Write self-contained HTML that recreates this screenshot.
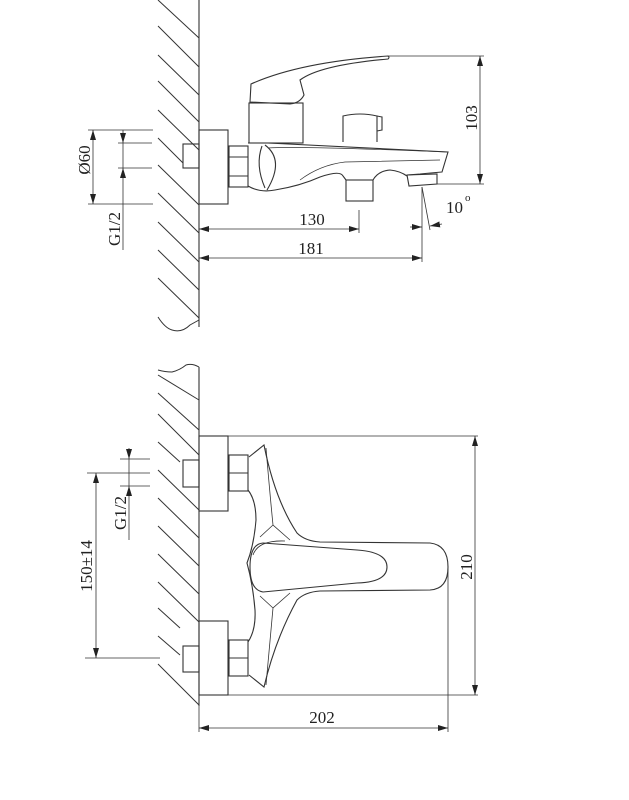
<!DOCTYPE html>
<html><head><meta charset="utf-8"><style>
html,body{margin:0;padding:0;background:#fff;}
svg{display:block;}
text{font-family:"Liberation Serif",serif;fill:#222;}
</style></head><body>
<svg width="629" height="800" viewBox="0 0 629 800" xmlns="http://www.w3.org/2000/svg">
<defs>
<marker id="a" viewBox="0 0 10 6" refX="10" refY="3" markerWidth="10" markerHeight="6" markerUnits="userSpaceOnUse" orient="auto-start-reverse"><path d="M0,0 L10,3 L0,6 z" fill="#222"/></marker>
</defs>
<g stroke="#333" stroke-width="1.1" fill="none">
<line x1="199" y1="0" x2="199" y2="327"/>
<g stroke-width="1">
<line x1="158" y1="0" x2="199" y2="38"/>
<line x1="158" y1="26" x2="199" y2="67"/>
<line x1="158" y1="55" x2="199" y2="95"/>
<line x1="158" y1="81" x2="199" y2="122"/>
<line x1="158" y1="110" x2="199" y2="150"/>
<line x1="158" y1="138" x2="183" y2="163"/>
<line x1="158" y1="165" x2="199" y2="205"/>
<line x1="158" y1="193" x2="199" y2="233"/>
<line x1="158" y1="222" x2="199" y2="262"/>
<line x1="158" y1="250" x2="199" y2="290"/>
<line x1="158" y1="278" x2="199" y2="318"/>
<path d="M158,317 Q165,328 172,330 Q182,333 190,325 L199,320"/>
</g>
<rect x="199" y="130" width="29" height="74"/>
<rect x="183" y="144" width="16" height="24"/>
<rect x="229" y="146" width="19" height="41"/>
<line x1="229" y1="157" x2="248" y2="157"/>
<line x1="229" y1="176" x2="248" y2="176"/>
<rect x="249" y="103" width="54" height="40"/>
<path d="M250,102 L251,84 Q300,62 388,56 Q390,57 388,59 Q320,65 300,80 L304,95 Q300,103 290,104 Z"/>
<path d="M343,142 L343,116 Q360,112 377,116 L377,142"/>
<path d="M377,116 L382,117 L382,130 L377,131"/>
<path d="M248,143 L268,143 L448,152 L442,172 Q430,173 420,174 L407,175"/>
<path d="M248,186 Q260,193 275,190 Q300,186 320,177 Q340,170 343,176 L346,180"/>
<path d="M373,180 Q378,171 390,170 Q400,171 407,176"/>
<path d="M268,148 Q298,146 448,152" stroke-width="0.7"/>
<path d="M265,145 Q285,160 267,190" />
<path d="M262,146 Q255,165 265,188"/>
<path d="M300,180 Q320,165 345,162 L440,160" stroke-width="0.7"/>
<rect x="346" y="180" width="27" height="21"/>
<path d="M407,175 L437,174 L437,184 L409,186 Z"/>
<line x1="388" y1="56" x2="484" y2="56" stroke-width="0.8"/>
<line x1="437" y1="184" x2="484" y2="184" stroke-width="0.8"/>
<line x1="480" y1="56" x2="480" y2="184" stroke-width="0.8" marker-start="url(#a)" marker-end="url(#a)"/>
<line x1="422" y1="187" x2="422" y2="262" stroke-width="0.8"/>
<line x1="422" y1="187" x2="430" y2="230" stroke-width="0.8"/>
<line x1="410" y1="227" x2="422" y2="227" stroke-width="0.8" marker-end="url(#a)"/>
<line x1="442" y1="224" x2="430" y2="226" stroke-width="0.8" marker-end="url(#a)"/>
<line x1="359" y1="210" x2="359" y2="233" stroke-width="0.8"/>
<line x1="199" y1="229" x2="359" y2="229" stroke-width="0.8" marker-start="url(#a)" marker-end="url(#a)"/>
<line x1="199" y1="258" x2="422" y2="258" stroke-width="0.8" marker-start="url(#a)" marker-end="url(#a)"/>
<line x1="88" y1="130" x2="153" y2="130" stroke-width="0.8"/>
<line x1="88" y1="204" x2="153" y2="204" stroke-width="0.8"/>
<line x1="118" y1="143" x2="152" y2="143" stroke-width="0.8"/>
<line x1="118" y1="168" x2="152" y2="168" stroke-width="0.8"/>
<line x1="93" y1="130" x2="93" y2="204" stroke-width="0.8" marker-start="url(#a)" marker-end="url(#a)"/>
<line x1="123" y1="130" x2="123" y2="143" stroke-width="0.8" marker-end="url(#a)"/>
<line x1="123" y1="180" x2="123" y2="168" stroke-width="0.8" marker-end="url(#a)"/>
<line x1="123" y1="143" x2="123" y2="168" stroke-width="0.8"/>
<line x1="123" y1="180" x2="123" y2="250" stroke-width="0.8"/>

<line x1="199" y1="367" x2="199" y2="706"/>
<g stroke-width="1">
<path d="M158,370 Q165,372 172,372 Q180,370 186,365 Q192,363 199,367"/>
<line x1="158" y1="375" x2="199" y2="400"/>
<line x1="158" y1="393" x2="199" y2="430"/>
<line x1="158" y1="414" x2="199" y2="455"/>
<line x1="158" y1="442" x2="180" y2="462"/>
<line x1="158" y1="470" x2="199" y2="510"/>
<line x1="158" y1="498" x2="199" y2="538"/>
<line x1="158" y1="526" x2="199" y2="566"/>
<line x1="158" y1="554" x2="199" y2="594"/>
<line x1="158" y1="582" x2="199" y2="622"/>
<line x1="158" y1="608" x2="180" y2="628"/>
<line x1="158" y1="636" x2="180" y2="655"/>
<line x1="158" y1="664" x2="199" y2="705"/>
</g>
<rect x="199" y="436" width="29" height="75"/>
<rect x="183" y="460" width="16" height="27"/>
<rect x="229" y="455" width="19" height="36"/>
<line x1="229" y1="473" x2="248" y2="473"/>
<rect x="199" y="621" width="29" height="74"/>
<rect x="183" y="646" width="16" height="26"/>
<rect x="229" y="640" width="19" height="36"/>
<line x1="229" y1="658" x2="248" y2="658"/>
<path d="M249,457 L264,445 Q275,500 297,533 Q305,541 320,542 L430,543 Q448,545 448,567 Q448,589 430,590 L320,591 Q305,592 297,600 Q275,640 264,687 L249,675"/>
<path d="M248,490 Q256,500 256,520 Q254,545 247,563 Q253,585 255,610 Q256,630 248,642"/>
<path d="M266,448 Q270,495 273,525 L290,540" stroke-width="0.8"/>
<path d="M266,685 Q270,640 273,608 L290,593" stroke-width="0.8"/>
<path d="M273,525 L260,537 M273,608 L260,596" stroke-width="0.8"/>
<path d="M263,543 L357,550 Q387,552 387,567 Q387,582 357,583 L263,592 Q250,590 250,567 Q250,544 263,543 Z"/>
<path d="M253,555 Q258,540 285,541" stroke-width="0.8"/>
<line x1="228" y1="436" x2="478" y2="436" stroke-width="0.8"/>
<line x1="228" y1="695" x2="478" y2="695" stroke-width="0.8"/>
<line x1="475" y1="436" x2="475" y2="695" stroke-width="0.8" marker-start="url(#a)" marker-end="url(#a)"/>
<line x1="448" y1="567" x2="448" y2="732" stroke-width="0.8"/>
<line x1="199" y1="706" x2="199" y2="732" stroke-width="0.8"/>
<line x1="199" y1="728" x2="448" y2="728" stroke-width="0.8" marker-start="url(#a)" marker-end="url(#a)"/>
<line x1="120" y1="459" x2="150" y2="459" stroke-width="0.8"/>
<line x1="87" y1="473" x2="150" y2="473" stroke-width="0.8"/>
<line x1="120" y1="486" x2="150" y2="486" stroke-width="0.8"/>
<line x1="85" y1="658" x2="160" y2="658" stroke-width="0.8"/>
<line x1="96" y1="473" x2="96" y2="658" stroke-width="0.8" marker-start="url(#a)" marker-end="url(#a)"/>
<line x1="129" y1="448" x2="129" y2="459" stroke-width="0.8" marker-end="url(#a)"/>
<line x1="129" y1="498" x2="129" y2="486" stroke-width="0.8" marker-end="url(#a)"/>
<line x1="129" y1="459" x2="129" y2="486" stroke-width="0.8"/>
<line x1="129" y1="498" x2="129" y2="540" stroke-width="0.8"/>
</g>
<g font-size="17">
<text x="312" y="225" text-anchor="middle">130</text>
<text x="311" y="254" text-anchor="middle">181</text>
<text x="446" y="213">10</text><text x="465" y="201" font-size="11">o</text>
<text x="322" y="723" text-anchor="middle">202</text>
<text transform="translate(477,118) rotate(-90)" text-anchor="middle">103</text>
<text transform="translate(472,567) rotate(-90)" text-anchor="middle">210</text>
<text transform="translate(90,160) rotate(-90)" text-anchor="middle">Ø60</text>
<text transform="translate(120,229) rotate(-90)" text-anchor="middle">G1/2</text>
<text transform="translate(126,513) rotate(-90)" text-anchor="middle">G1/2</text>
<text transform="translate(92,566) rotate(-90)" text-anchor="middle">150±14</text>
</g>
</svg>
</body></html>
